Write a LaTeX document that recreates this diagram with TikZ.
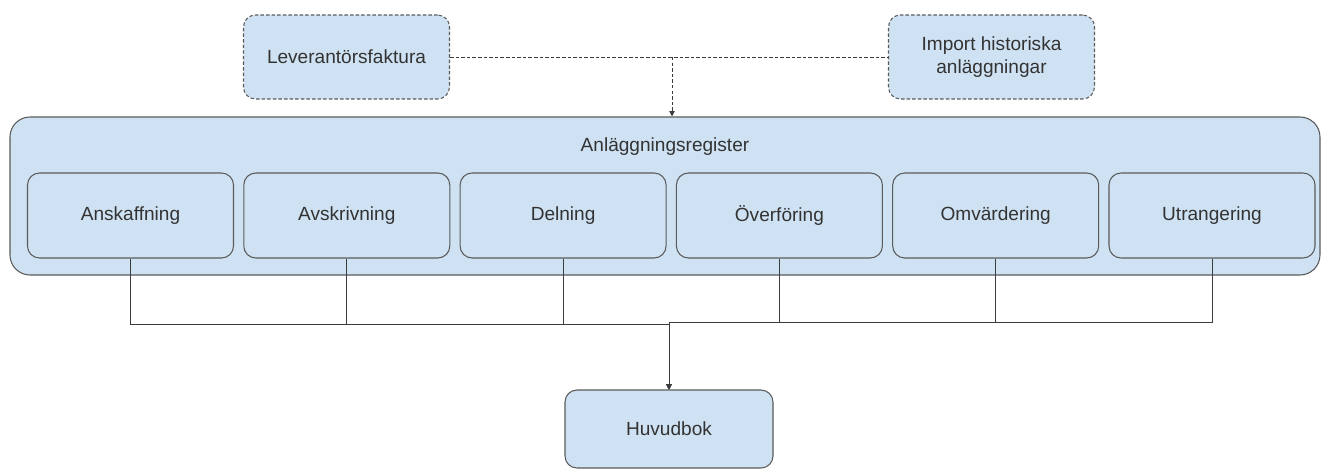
\documentclass[tikz,border=0pt]{standalone}
\usepackage{fontspec}
\setmainfont{Liberation Sans}
\usetikzlibrary{arrows.meta}
\definecolor{boxfill}{HTML}{CFE2F3}
\definecolor{boxline}{HTML}{5A5A5A}
\definecolor{ink}{HTML}{333333}
\definecolor{wire}{HTML}{3C3C3C}
\begin{document}
\begin{tikzpicture}[x=0.75pt,y=-0.75pt,
  every node/.style={font=\fontsize{14.3}{17}\selectfont, text=ink},
  basebox/.style={draw=boxline, fill=boxfill, line width=0.8pt, rectangle, align=center, inner sep=0pt},
  srcbox/.style={basebox, dash pattern=on 2.6pt off 1.6pt, rounded corners=9pt,
                 minimum width=206*0.75pt, minimum height=84*0.75pt},
  regbox/.style={basebox, rounded corners=15pt, minimum width=1310*0.75pt, minimum height=158*0.75pt},
  stepbox/.style={basebox, rounded corners=9pt, minimum width=206*0.75pt, minimum height=85*0.75pt},
  ledgerbox/.style={basebox, rounded corners=9pt, minimum width=208*0.75pt, minimum height=78*0.75pt},
  conn/.style={draw=wire, line width=0.75pt},
  feed/.style={draw=wire, line width=0.75pt, dash pattern=on 2.6pt off 1.6pt},
  tip/.style={-{Triangle[length=4pt,width=4pt]}}
]
\useasboundingbox (0,0) rectangle (1322,471);

% sources
\node[srcbox] (lev) at (346.5,57) {Leverantörsfaktura};
\node[srcbox] (imp) at (991.5,57) {Import historiska\\anläggningar};

% asset register with its processes
\node[regbox] (reg) at (665,196) {};
\node (regtitle) at (665,147) {Anläggningsregister};
\node[stepbox] (s1) at (130.5,215.5) {Anskaffning};
\node[stepbox] (s2) at (346.8,215.5) {Avskrivning};
\node[stepbox] (s3) at (563.1,215.5) {Delning};
\node[stepbox] (s4) at (779.4,215.5) {Överföring};
\node[stepbox] (s5) at (995.7,215.5) {Omvärdering};
\node[stepbox] (s6) at (1212,215.5) {Utrangering};

% general ledger
\node[ledgerbox] (hb) at (669,429) {Huvudbok};

% feeds into the register
\coordinate (feedjoin) at (672,57);
\draw[feed] (lev.east) -- (imp.west);
\draw[feed, tip] (feedjoin) -- (feedjoin |- reg.north);

% postings to the ledger
\coordinate (jl) at (669,324);
\coordinate (jr) at (669,322);
\foreach \s in {s1,s2,s3} {
  \draw[conn, tip] (\s.south) |- (jl) -- (hb.north);
}
\foreach \s in {s4,s5,s6} {
  \draw[conn, tip] (\s.south) |- (jr) -- (hb.north);
}
\end{tikzpicture}
\end{document}
